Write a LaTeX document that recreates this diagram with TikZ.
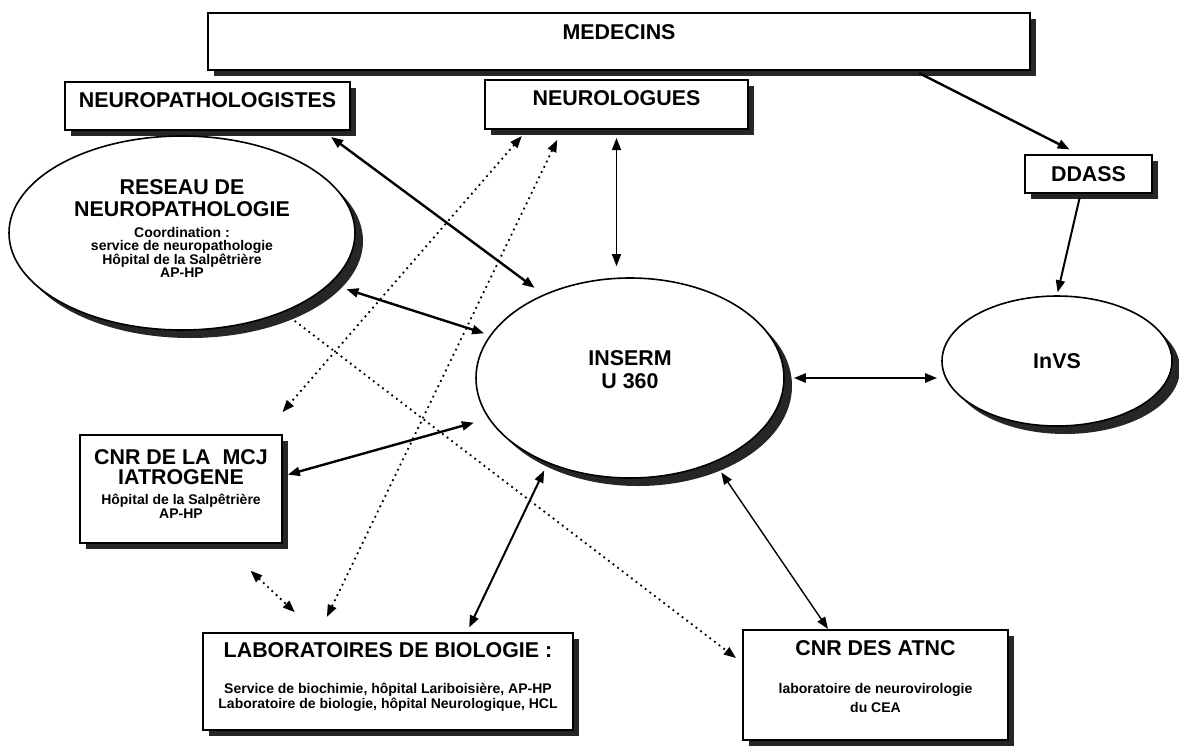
\documentclass[tikz,border=0pt]{standalone}
\usepackage{fontspec}
\setmainfont{Liberation Sans}
\usetikzlibrary{positioning, shapes, shadows, arrows.meta, calc}
\newcommand{\hdtxt}{\bfseries\fontsize{10.7}{12}\selectfont}
\newcommand{\smtxt}{\bfseries\fontsize{7}{7.4}\selectfont}

\begin{document}
\begin{tikzpicture}[x=0.5pt, y=-0.5pt, >={Triangle[length=6pt,width=4.5pt]}, line width=1pt,
  box/.style={draw, rectangle, fill=white, line width=1pt, inner sep=2pt, align=center, font=\hdtxt,
    drop shadow={shadow xshift=3pt, shadow yshift=-3pt, fill=black, opacity=.85}},
  oval/.style={draw, ellipse, fill=white, line width=.8pt, inner sep=0pt, align=center, font=\hdtxt,
    drop shadow={shadow xshift=4pt, shadow yshift=-4pt, fill=black, opacity=.85}},
  gap/.style 2 args={shorten <=#1, shorten >=#2},
  dots/.style={dotted, line width=.9pt}]
  \useasboundingbox (0,0) rectangle (1179,745);

  % boxes
  \node[box, minimum width=411pt, minimum height=28.5pt, text depth=9.5pt] (med) at (619,41.5) {MEDECINS};
  \node[box, minimum width=142.5pt, minimum height=24pt, text depth=6pt] (np) at (207.5,106) {NEUROPATHOLOGISTES};
  \node[box, minimum width=131.5pt, minimum height=24.5pt, text depth=6.5pt] (nl) at (616.5,104.5) {NEUROLOGUES};
  \node[box, minimum width=63.5pt, minimum height=19pt] (dd) at (1088.5,174) {DDASS};
  \node[box, minimum width=101pt, minimum height=54pt, text depth=4.85pt] (mcj) at (181,489)
    {CNR DE LA \ MCJ\\[-2pt]IATROGENE\\[-2.1pt]{\smtxt H\^opital de la Salp\^etri\`ere}\\[-5pt]{\smtxt AP-HP}};
  \node[box, minimum width=185pt, minimum height=48.5pt, text depth=5.85pt] (labo) at (388,681.5)
    {LABORATOIRES DE BIOLOGIE :\\[5.85pt]{\smtxt Service de biochimie, h\^opital Lariboisi\`ere, AP-HP}\\[-4.5pt]{\smtxt Laboratoire de biologie, h\^opital Neurologique, HCL}};
  \node[box, minimum width=132.5pt, minimum height=55pt, text depth=8.35pt] (atnc) at (875.5,685)
    {CNR DES ATNC\\[6.85pt]{\smtxt laboratoire de neurovirologie}\\[-2.5pt]{\smtxt du CEA}};

  % ellipses
  \node[oval, minimum width=173pt, minimum height=97pt, text depth=4.35pt] (res) at (182,233)
    {RESEAU DE\\[-1pt]NEUROPATHOLOGIE\\[-1.65pt]{\smtxt Coordination :}\\[-5.3pt]{\smtxt service de neuropathologie}\\[-5.3pt]{\smtxt H\^opital de la Salp\^etri\`ere}\\[-5.3pt]{\smtxt AP-HP}};
  \node[oval, minimum width=154pt, minimum height=100pt, text depth=8.5pt] (insr) at (630,378) {INSERM\\[-0.5pt]U 360};
  \node[oval, minimum width=115pt, minimum height=65pt] (invs) at (1057,361) {InVS};

  \path[<->]
    ([xshift=57.75pt]np.south) edge[gap={5pt}{5.5pt}, line width=1.2pt] (insr.136)
    (nl.south) edge[gap={4pt}{5.5pt}, line width=.7pt] (nl.south |- insr.north)
    (res.-19) edge[gap={8.5pt}{3pt}, line width=1.2pt] (insr.163)
    ([yshift=6.5pt]mcj.east) edge[gap={2.5pt}{7.5pt}, line width=1.2pt] (insr.196)
    ([xshift=39.5pt]labo.north) edge[gap={2.5pt}{4pt}] (insr.226)
    (insr.east) edge[gap={4.5pt}{2pt}, line width=1.2pt] (insr.east -| invs.west)
    (insr.-45) edge[gap={6pt}{0pt}, line width=.7pt] ([xshift=-23.75pt]atnc.north)
    ([xshift=148pt]med.south) edge[-> , gap={2.5pt}{5pt}, line width=1.2pt] ([xshift=-5pt]dd.north)
    ([xshift=-4pt]dd.south) edge[->, gap={2pt}{1.5pt}] (invs.north);

  % dotted links
  \path[<->, dots]
    ([xshift=-44.75pt]nl.south) edge[gap={4pt}{14.5pt}] ([xshift=-9.75pt]mcj.north east)
    ([xshift=-27.25pt]nl.south) edge[gap={5.5pt}{8.4pt}] ([xshift=-34.2pt]labo.north)
    (res.-38) edge[->, gap={7pt}{3.8pt}] ([yshift=11.2pt]atnc.west)
    ([xshift=20.5pt]mcj.south) edge[gap={19.5pt}{14.5pt}] ([xshift=-36pt]labo.north);
\end{tikzpicture}
\end{document}
